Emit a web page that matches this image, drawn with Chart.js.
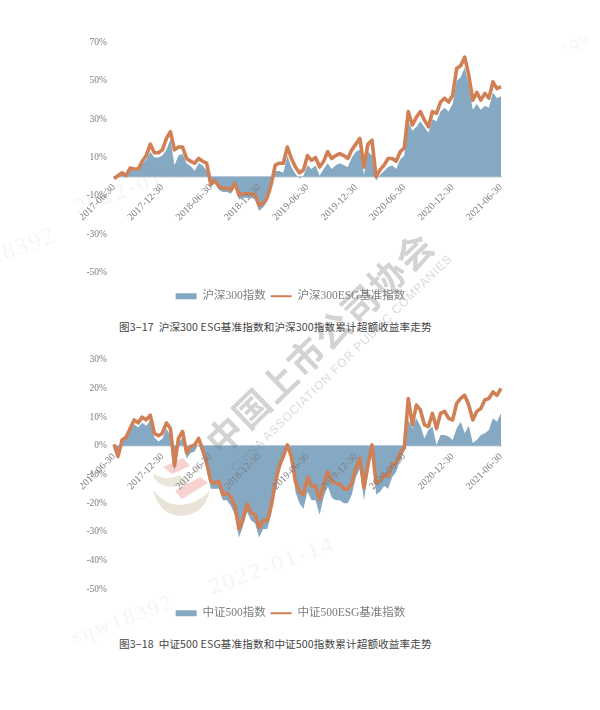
<!DOCTYPE html>
<html lang="zh-CN">
<head>
<meta charset="UTF-8">
<title>累计超额收益率走势</title>
<script src="https://cdn.jsdelivr.net/npm/chart.js"></script>
<style>
  html, body { margin: 0; padding: 0; background: #fff; }
  body { width: 600px; height: 710px; position: relative; overflow: hidden; }
  .box { position: absolute; left: 80px; width: 450px; height: 288px; }
  .caption { position: absolute; left: 119px; font: 10.6px "Noto Sans CJK SC", sans-serif; letter-spacing: .12px; color: #444; white-space: nowrap; }
  .wm { position: absolute; white-space: nowrap; transform-origin: 0 0; pointer-events: none; }
  .faint { font-family: "Liberation Serif"; color: rgba(150,150,150,.1); letter-spacing: 2px; transform: rotate(-20deg); }
  svg { position: absolute; left: 0; top: 0; }
</style>
</head>
<body>
<!-- 协会标志 -->
<svg width="600" height="710">
  <path d="M153 490 Q160 516 182 516 Q205 514 210 490 Q200 503 180 505 Q165 505 153 490 Z" fill="#e9e3d8"/>
  <path d="M153 473 Q155 486 172 487 L190 485 L180 475 Q165 482 153 473 Z" fill="#ece7dd"/>
  <path d="M163 467 L172 474 L190 466 L183 458 Z" fill="#f7d2d0"/>
  <path d="M175 491 L182 499 L208 483 L200 477 Z" fill="#f7d2d0"/>
</svg>
<div class="box" style="top:30px"><canvas id="chart1"></canvas></div>
<div class="caption" style="top:319px">图3−17&nbsp; 沪深300 ESG基准指数和沪深300指数累计超额收益率走势</div>
<div class="box" style="top:347px"><canvas id="chart2"></canvas></div>
<div class="caption" style="top:636px">图3−18&nbsp; 中证500 ESG基准指数和中证500指数累计超额收益率走势</div>

<!-- 水印 -->
<div class="wm" style="left:192px;top:427px;transform:rotate(-44deg);font:bold 36px 'Noto Sans CJK SC';color:rgba(120,120,120,.33);letter-spacing:1.6px">中国上市公司协会</div>
<div class="wm" style="left:228px;top:465px;transform:rotate(-44.5deg);font:12px 'Liberation Sans';color:rgba(120,120,120,.28);letter-spacing:.9px">CHINA ASSOCIATION FOR PUBLIC COMPANIES</div>
<div class="wm faint" style="left:205px;top:575px;font-size:24px">2022-01-14</div>
<div class="wm faint" style="left:68px;top:625px;font-size:22px">sqw18392</div>
<div class="wm faint" style="left:70px;top:195px;font-size:24px">2022-01-14</div>
<div class="wm faint" style="left:-15px;top:245px;font-size:24px">18392</div>
<div class="wm faint" style="left:558px;top:38px;font-size:17px">sqw</div>

<script>
const tickLabels = ['2017-06-30', '2017-12-30', '2018-06-30', '2018-12-30', '2019-06-30', '2019-12-30', '2020-06-30', '2020-12-30', '2021-06-30'];
const yTicks1 = [-50, -30, -10, 10, 30, 50, 70];
const yTicks2 = [-50, -40, -30, -20, -10, 0, 10, 20, 30];

const hs300 = [-1, 0.2, 1.5, 0, 3.8, 3.2, 3.2, 6.5, 9, 13, 10, 10, 11, 14, 19.5, 6, 11, 12, 7, 5.5, 3, 7, 6, 3,
  -5.5, -3.5, -7, -8, -8, -9, -5.5, -12, -11, -11, -11, -12, -18, -16, -13, -6, 3, 3, 2, 11, 5, 1.5, -1,
  0.5, 6, 4, 6, 0.5, 4, 7, 4, 6, 7, 6, 5, 10, 13, 14, 1, 13, 11, -2, 1, 3, 5, 6, 4, 9, 11,
  29, 24, 26, 29, 26, 23, 30, 29, 34, 36, 34, 38, 50, 52, 57, 48, 35, 38, 35, 37, 36, 44, 41, 42];
const hs300Esg = [-1, 0.5, 2, 0.5, 4.5, 4, 4, 8, 11, 17, 12.5, 12.5, 14, 20, 23.5, 14, 15.5, 15.5, 9.5, 8, 7, 9.5, 8, 7,
  -4, -2, -5, -6, -6, -7, -3.5, -9.5, -9, -9, -9, -9.5, -15, -14, -11, -4, 6, 7, 7, 15.5, 9.5, 5, 2,
  3.5, 11, 8.5, 10, 5, 8, 13, 9.5, 11, 12, 11, 9.5, 14, 17, 20, 5, 17, 19, 0, 3.5, 6, 9.5, 9.5, 8, 13, 15,
  34, 27, 31, 34, 29.5, 26, 34, 33, 39, 41, 39, 42.5, 56.5, 58, 62.5, 53, 40, 44, 40, 43.5, 41, 49.5, 46, 47];
const zz500 = [0.3, -4.5, 1.5, 2.5, 5, 7.5, 6.5, 8, 7, 9, 3, 1.5, 2.5, 6, 3.5, -9, 1, 3, -4.5, -2.5, -2, 0.5, -3.5, -8,
  -15, -15, -15, -19, -19, -21, -24, -32, -28, -23, -26, -27, -32, -29, -29, -24, -16, -9, -5, -0.5, -6, -16, -20,
  -22, -16, -19, -19, -24, -18, -14, -18, -19, -19, -20, -20, -17, -11, -8, -19, -10, -1, -17, -16, -14, -15, -11, -9, -5, -2,
  9, 6, 9.6, 7, 2.6, 5.5, 6.7, 0.3, 3.8, 3.8, 3.2, 2, 6, 8.4, 4.4, 7, 1, 2, 3.8, 4.4, 5.5, 9.6, 8.4, 11.3];
const zz500Esg = [0.5, -3.7, 2, 3, 6, 9, 8, 10, 9, 10.7, 4.4, 3.5, 4.4, 8, 6, -7, 2.6, 5, -2.5, -0.2, 0.3, 2.6, -1.4, -6,
  -12.3, -13, -12.3, -17, -16.4, -18, -21, -29, -25.6, -20.4, -23.3, -24, -28.5, -26, -26, -21, -13, -7, -3.7, 0.3, -3.7, -12.3, -16,
  -17, -11, -14, -14, -18.7, -13.5, -9, -12.3, -13, -13.5, -15, -15, -13, -7.7, -4.3, -14.6, -6.6, 0.3, -13, -12.3, -10, -10.6, -6.6, -6, -2.5, -0.8,
  16.5, 7.3, 14.2, 12.5, 7.3, 6.7, 11.3, 6, 11.3, 12, 9.6, 9, 14.8, 16.5, 17.6, 14.2, 9, 12, 13, 16, 16.5, 18.8, 17.6, 20];

// 半月一个点，只在半年处显示日期
const categories = [];
tickLabels.forEach((d, i) => {
  categories.push(d);
  if (i < tickLabels.length - 1) for (let k = 0; k < 11; k++) categories.push('');
});

const BLUE = '#85a9c3', ORANGE = '#d17f54', GREY = '#7d7d7d';
const serif = '"Liberation Serif", "Noto Sans CJK SC"';

function drawChart(id, areaName, lineName, area, line, yTicks, yMin, yMax) {
  new Chart(document.getElementById(id), {
    type: 'line',
    data: {
      labels: categories,
      datasets: [
        { label: lineName, data: line, borderColor: ORANGE, backgroundColor: ORANGE, borderWidth: 3.6, borderJoinStyle: 'round', pointRadius: 0, tension: 0, fill: false, order: 1 },
        { label: areaName, data: area, borderColor: BLUE, backgroundColor: BLUE, borderWidth: 0, pointRadius: 0, tension: 0, fill: 'origin', order: 2 }
      ]
    },
    options: {
      responsive: true,
      maintainAspectRatio: false,
      animation: false,
      layout: { padding: { left: 0, right: 29, top: 12, bottom: 6 } },
      plugins: {
        tooltip: { enabled: false },
        legend: {
          position: 'bottom',
          reverse: true,
          title: { display: true, text: ' ', padding: 0, font: { size: 11 } },
          labels: {
            usePointStyle: true,
            pointStyleWidth: 21,
            boxHeight: 6,
            padding: 5,
            color: GREY,
            font: { family: serif, size: 11.5 },
            generateLabels(chart) {
              return chart.data.datasets.map((ds, i) => ({
                text: ds.label,
                datasetIndex: i,
                fillStyle: ds.borderColor,
                strokeStyle: ds.borderColor,
                lineWidth: ds.fill ? 0 : 2,
                pointStyle: ds.fill ? 'rect' : 'line',
                fontColor: GREY
              }));
            }
          }
        }
      },
      scales: {
        x: {
          position: { y: 0 },
          offset: false,
          grid: { display: false, drawTicks: true, tickLength: 4, tickColor: '#c9d4dd' },
          border: { color: '#c9d4dd', width: 1.5 },
          ticks: {
            z: 1,
            autoSkip: false,
            maxRotation: 45,
            minRotation: 45,
            padding: 1,
            color: GREY,
            font: { family: serif, size: 10 }
          }
        },
        y: {
          min: yMin,
          max: yMax,
          afterBuildTicks(axis) { axis.ticks = yTicks.map(v => ({ value: v })); },
          afterFit(axis) { axis.width = 33; },
          grid: { display: false, drawTicks: false, tickLength: 0 },
          border: { display: false },
          ticks: {
            padding: 7,
            color: GREY,
            font: { family: serif, size: 9.5 },
            callback: v => v + '%'
          }
        }
      }
    }
  });
}

drawChart('chart1', '沪深300指数', '沪深300ESG基准指数', hs300, hs300Esg, yTicks1, -50, 70);
drawChart('chart2', '中证500指数', '中证500ESG基准指数', zz500, zz500Esg, yTicks2, -50, 30);
</script>
</body>
</html>
